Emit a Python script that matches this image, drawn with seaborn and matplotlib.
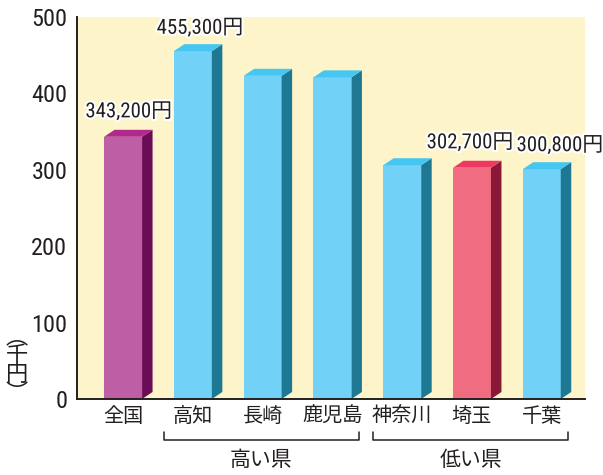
import matplotlib
matplotlib.use("Agg")
import matplotlib.pyplot as plt
from matplotlib import font_manager
from matplotlib.patches import Polygon
import matplotlib.patheffects as pe
import seaborn as sns
import pandas as pd

# ---- data ----
categories = ["全国", "高知", "長崎", "鹿児島", "神奈川", "埼玉", "千葉"]
values = [343.2, 455.3, 423.0, 421.0, 306.0, 302.7, 300.8]  # 千円
labeled = {"全国": 343200, "高知": 455300, "埼玉": 302700, "千葉": 300800}
groups = [("高い県", 1, 3), ("低い県", 4, 6)]
y_ticks = [0, 100, 200, 300, 400, 500]

front_colors = {"全国": "#BE5EA5", "埼玉": "#F06C80"}
side_colors = {"全国": "#6B0C57", "埼玉": "#8A1939"}
top_colors = {"全国": "#B02A8D", "埼玉": "#EE3A63"}
blue_front, blue_side, blue_top = "#72D1F6", "#1E7793", "#45C7F1"

# ---- find a condensed sans font if any ----
cond_stretches = {"condensed", "semi-condensed", "extra-condensed", "ultra-condensed"}
entries = font_manager.fontManager.ttflist
cands = []
for f in entries:
    st = f.stretch if isinstance(f.stretch, str) else ("condensed" if f.stretch < 500 else "normal")
    if f.style != "normal":
        continue
    w = f.weight if isinstance(f.weight, int) else (400 if f.weight in ("normal", "regular", "book") else 700)
    if w != 400:
        continue
    if st in cond_stretches or "Condensed" in f.name or "Narrow" in f.name:
        cands.append((f.name, f.stretch, f.fname))
prio = ["Roboto Condensed", "Liberation Sans Narrow", "Noto Sans", "Open Sans", "DejaVu Sans",
        "Roboto", "Noto Sans Condensed", "Open Sans Condensed"]
chosen = None
for p in prio:
    for c in cands:
        if c[0] == p:
            chosen = c
            break
    if chosen:
        break
if chosen is None and cands:
    chosen = cands[0]
jp_font = "Noto Sans CJK JP"
if chosen:
    num_family = chosen[0]
    num_stretch = chosen[1]
    scale = 1.0
else:
    num_family = "Liberation Sans"
    num_stretch = "normal"
    scale = 0.82

sns.set_style("white")
plt.rcParams["font.family"] = [num_family, jp_font, "DejaVu Sans"]
plt.rcParams["font.stretch"] = num_stretch

fig = plt.figure(figsize=(6.03, 4.75), dpi=100)
ax = fig.add_axes([77 / 603, 1 - 399 / 475, (585 - 77) / 603, (399 - 17) / 475])
ax.set_facecolor("#FDF5C9")

df = pd.DataFrame({"cat": categories, "val": values})
palette = {c: front_colors.get(c, blue_front) for c in categories}
sns.barplot(data=df, x="cat", y="val", hue="cat", palette=palette, order=categories,
            hue_order=categories, width=0.545, linewidth=0, saturation=1,
            legend=False, ax=ax, zorder=3)

ax.set_xlim(-0.66, 6.62)
ax.set_ylim(0, 500)

dx = 10.5 / 69.83
dy = 7 / 0.764
bars = sorted(ax.patches, key=lambda p: p.get_x())
for cat, bar in zip(categories, bars):
    x0 = bar.get_x()
    x1 = x0 + bar.get_width()
    h = bar.get_height()
    side = Polygon([(x1, 0), (x1 + dx, dy), (x1 + dx, h + dy), (x1, h)], closed=True,
                   facecolor=side_colors.get(cat, blue_side), edgecolor="none", zorder=3)
    top = Polygon([(x0, h), (x0 + dx, h + dy), (x1 + dx, h + dy), (x1, h)], closed=True,
                  facecolor=top_colors.get(cat, blue_top), edgecolor="none", zorder=3)
    ax.add_patch(side)
    ax.add_patch(top)

offsets = {"全国": (4, 18), "高知": (5, 16.5), "埼玉": (-1.5, 18), "千葉": (13, 17)}
for i, cat in enumerate(categories):
    if cat in labeled:
        bar = bars[i]
        cx = bar.get_x() + bar.get_width() / 2
        ax.annotate(f"{labeled[cat]:,}円", xy=(cx, bar.get_height()),
                    xytext=offsets[cat], textcoords="offset points",
                    ha="center", va="center", fontsize=15 * scale, color="#231F20",
                    annotation_clip=False, zorder=5,
                    path_effects=[pe.withStroke(linewidth=3, foreground="white")])

ax.set_yticks(y_ticks)
ax.set_yticklabels([str(t) for t in y_ticks], fontsize=17.5 * scale, color="#231F20")
ax.tick_params(axis="y", direction="in", length=9, width=1.4, color="#231F20", pad=7)
ax.tick_params(axis="x", length=0, pad=5, labelsize=14.5, labelcolor="#231F20")
ax.set_xticks(range(len(categories)))
ax.set_xticklabels(categories, fontfamily=[jp_font])
ax.set_xlabel("")
ax.set_ylabel("")

for s in ["top", "right"]:
    ax.spines[s].set_visible(False)
for s in ["left", "bottom"]:
    ax.spines[s].set_color("#231F20")
    ax.spines[s].set_linewidth(1.4)
    ax.spines[s].set_zorder(6)

tr = ax.get_xaxis_transform()
for name, a, b in groups:
    xl, xr = a - 0.42, b + 0.38
    ax.plot([xl, xl, xr, xr], [-0.086, -0.107, -0.107, -0.086], transform=tr,
            color="#231F20", lw=1.1, clip_on=False)
    ax.text((xl + xr) / 2, -0.16, name, transform=tr, ha="center", va="center",
            fontsize=15, color="#231F20", fontfamily=[jp_font])

fig.text(17 / 603, 1 - 365 / 475, "︵\n千\n円\n︶", ha="center", va="center",
         fontsize=16, linespacing=0.78, color="#231F20", fontfamily=[jp_font])

fig.savefig("out.png", dpi=100, facecolor="white")
